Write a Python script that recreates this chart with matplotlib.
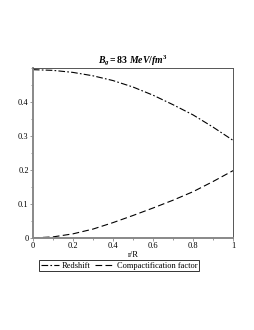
import matplotlib
matplotlib.use("Agg")
import matplotlib.pyplot as plt
from matplotlib.ticker import MultipleLocator

plt.rcParams["font.family"] = ["Liberation Serif", "DejaVu Serif"]
plt.rcParams["mathtext.fontset"] = "custom"
plt.rcParams["mathtext.it"] = "Liberation Serif:italic:bold"
plt.rcParams["mathtext.rm"] = "Liberation Serif:bold"

# radial coordinate r/R
r = [0.0, 0.1, 0.2, 0.3, 0.4, 0.5, 0.6, 0.7, 0.8, 0.9, 1.0]
# redshift values
redshift = [0.495, 0.493, 0.487, 0.477, 0.463, 0.444, 0.420, 0.392, 0.362, 0.326, 0.287]
# compactification factor
compact = [0.0, 0.003, 0.012, 0.026, 0.045, 0.066, 0.088, 0.111, 0.136, 0.166, 0.198]

x_ticks = [0, 0.2, 0.4, 0.6, 0.8, 1.0]
x_labels = ["0", "0.2", "0.4", "0.6", "0.8", "1"]
y_ticks = [0, 0.1, 0.2, 0.3, 0.4]
y_labels = ["0", "0.1", "0.2", "0.3", "0.4"]

fig = plt.figure(figsize=(2.55, 3.3), dpi=100)
ax = fig.add_axes([0.129, 0.279, 0.785, 0.515])

ax.plot(r, redshift, color="black", lw=0.8, dashes=(6, 2, 1.5, 2), label="Redshift")
ax.plot(r, compact, color="black", lw=0.8, dashes=(6, 3), label="Compactification factor")

ax.set_xlim(0, 1)
ax.set_ylim(0, 0.5)
ax.set_xticks(x_ticks)
ax.set_xticklabels(x_labels)
ax.set_yticks(y_ticks)
ax.set_yticklabels(y_labels)
ax.xaxis.set_minor_locator(MultipleLocator(0.1))
ax.yaxis.set_minor_locator(MultipleLocator(0.05))
ax.tick_params(which="both", labelsize=6, length=2, width=0.6, color="#888888", pad=1)
ax.tick_params(which="minor", length=1.2)

for side in ["left", "bottom"]:
    ax.spines[side].set_color("#888888")
    ax.spines[side].set_linewidth(1.4)
for side in ["top", "right"]:
    ax.spines[side].set_color("#555555")
    ax.spines[side].set_linewidth(0.7)

ax.set_xlabel("r/R", fontsize=6, labelpad=1)
ax.set_title(r"$B_g = 83\ MeV/fm^3$", fontsize=7, pad=2)

leg = ax.legend(loc="upper center", bbox_to_anchor=(0.43, -0.13), ncol=2,
                fontsize=6, frameon=True, fancybox=False, edgecolor="black",
                handlelength=2.2, handletextpad=0.4, columnspacing=0.5,
                borderpad=0.2, borderaxespad=0)
leg.get_frame().set_linewidth(0.7)

fig.savefig("out.png", dpi=100)
